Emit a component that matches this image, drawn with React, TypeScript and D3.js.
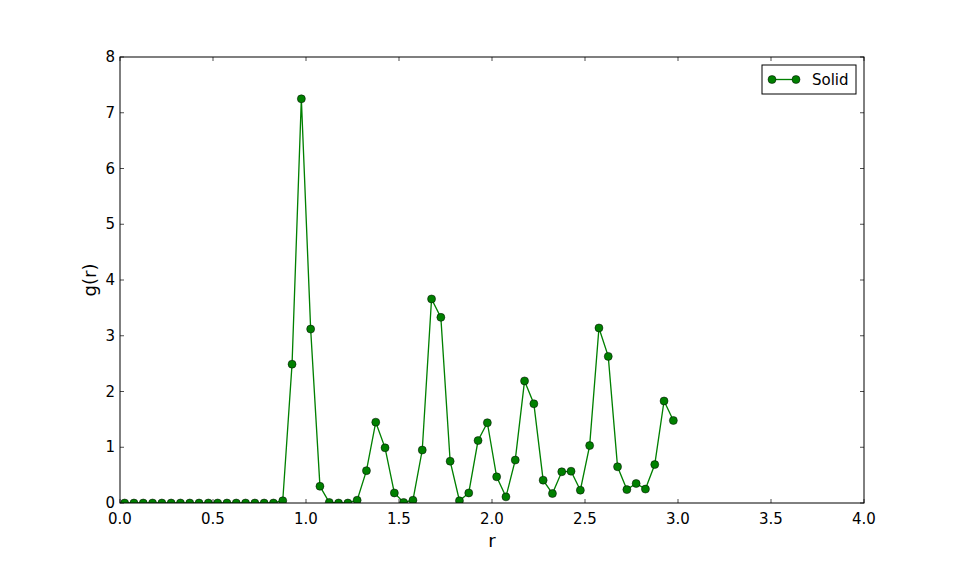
import React, { useEffect, useRef } from 'react';
import * as d3 from 'd3';

// r sampled at bin centres
const rValues = d3.range(60).map(i => 0.025 + i * 0.05);
const gValues = [
  0, 0, 0, 0, 0, 0, 0, 0, 0, 0,
  0, 0, 0, 0, 0, 0, 0, 0.04, 2.49, 7.25,
  3.12, 0.3, 0.01, 0, 0, 0.05, 0.58, 1.45, 0.99, 0.18,
  0.01, 0.05, 0.95, 3.66, 3.33, 0.75, 0.04, 0.18, 1.12, 1.44,
  0.47, 0.11, 0.77, 2.19, 1.78, 0.41, 0.17, 0.56, 0.57, 0.23,
  1.03, 3.14, 2.63, 0.65, 0.24, 0.35, 0.25, 0.69, 1.83, 1.48,
];
const xTicks = [0, 0.5, 1, 1.5, 2, 2.5, 3, 3.5, 4];
const yTicks = [0, 1, 2, 3, 4, 5, 6, 7, 8];
const seriesName = 'Solid';

const App = () => {
  const ref = useRef<SVGSVGElement>(null);

  useEffect(() => {
    const width = 960;
    const height = 576;
    const left = 120, right = 864, top = 57, bottom = 503;
    const font = 'DejaVu Sans, sans-serif';
    const green = '#008000';

    const svg = d3.select(ref.current);
    svg.selectAll('*').remove();
    svg.attr('width', width).attr('height', height);

    const x = d3.scaleLinear().domain([0, 4]).range([left, right]);
    const y = d3.scaleLinear().domain([0, 8]).range([bottom, top]);

    const data = rValues.map((r, i) => ({ r, g: gValues[i] }));

    svg.append('defs').append('clipPath').attr('id', 'plot-clip')
      .append('rect').attr('x', left).attr('y', top)
      .attr('width', right - left).attr('height', bottom - top);

    const plot = svg.append('g');

    // ticks (inward, on all four sides)
    xTicks.forEach(t => {
      plot.append('line').attr('x1', x(t)).attr('x2', x(t)).attr('y1', bottom).attr('y2', bottom - 4)
        .attr('stroke', '#000').attr('stroke-width', 0.7);
      plot.append('line').attr('x1', x(t)).attr('x2', x(t)).attr('y1', top).attr('y2', top + 4)
        .attr('stroke', '#000').attr('stroke-width', 0.7);
      plot.append('text').attr('x', x(t)).attr('y', bottom + 21)
        .attr('text-anchor', 'middle').attr('font-family', font).attr('font-size', 15)
        .text(d3.format('.1f')(t));
    });
    yTicks.forEach(t => {
      plot.append('line').attr('x1', left).attr('x2', left + 4).attr('y1', y(t)).attr('y2', y(t))
        .attr('stroke', '#000').attr('stroke-width', 0.7);
      plot.append('line').attr('x1', right).attr('x2', right - 4).attr('y1', y(t)).attr('y2', y(t))
        .attr('stroke', '#000').attr('stroke-width', 0.7);
      plot.append('text').attr('x', left - 5).attr('y', y(t) + 5)
        .attr('text-anchor', 'end').attr('font-family', font).attr('font-size', 15)
        .text(t);
    });

    const marks = plot.append('g').attr('clip-path', 'url(#plot-clip)');
    const line = d3.line<{ r: number; g: number }>().x(d => x(d.r)).y(d => y(d.g));
    marks.append('path').datum(data).attr('d', line)
      .attr('fill', 'none').attr('stroke', green).attr('stroke-width', 1.33);

    marks.selectAll('circle.pt').data(data).enter().append('circle')
      .attr('class', 'pt')
      .attr('cx', d => x(d.r)).attr('cy', d => y(d.g)).attr('r', 4)
      .attr('fill', green).attr('stroke', '#000').attr('stroke-width', 0.5);

    // frame
    plot.append('rect').attr('x', left).attr('y', top).attr('width', right - left).attr('height', bottom - top)
      .attr('fill', 'none').attr('stroke', '#000').attr('stroke-width', 1);

    // axis labels
    svg.append('text').attr('x', (left + right) / 2).attr('y', 547)
      .attr('text-anchor', 'middle').attr('font-family', font).attr('font-size', 18).text('r');
    svg.append('text').attr('transform', `translate(96,${(top + bottom) / 2}) rotate(-90)`)
      .attr('text-anchor', 'middle').attr('font-family', font).attr('font-size', 18).text('g(r)');

    // legend
    const lg = svg.append('g');
    lg.append('rect').attr('x', 762).attr('y', 65).attr('width', 94).attr('height', 29)
      .attr('fill', '#fff').attr('stroke', '#000').attr('stroke-width', 1);
    lg.append('line').attr('x1', 772).attr('x2', 796).attr('y1', 79.5).attr('y2', 79.5)
      .attr('stroke', green).attr('stroke-width', 1.33);
    [772, 796].forEach(cx => {
      lg.append('circle').attr('cx', cx).attr('cy', 79.5).attr('r', 4)
        .attr('fill', green).attr('stroke', '#000').attr('stroke-width', 0.5);
    });
    lg.append('text').attr('x', 812).attr('y', 85).attr('font-family', font).attr('font-size', 15)
      .text(seriesName);
  }, []);

  return <svg ref={ref} style={{ position: 'absolute', left: 0, top: 0 }} />;
};

export default App;
